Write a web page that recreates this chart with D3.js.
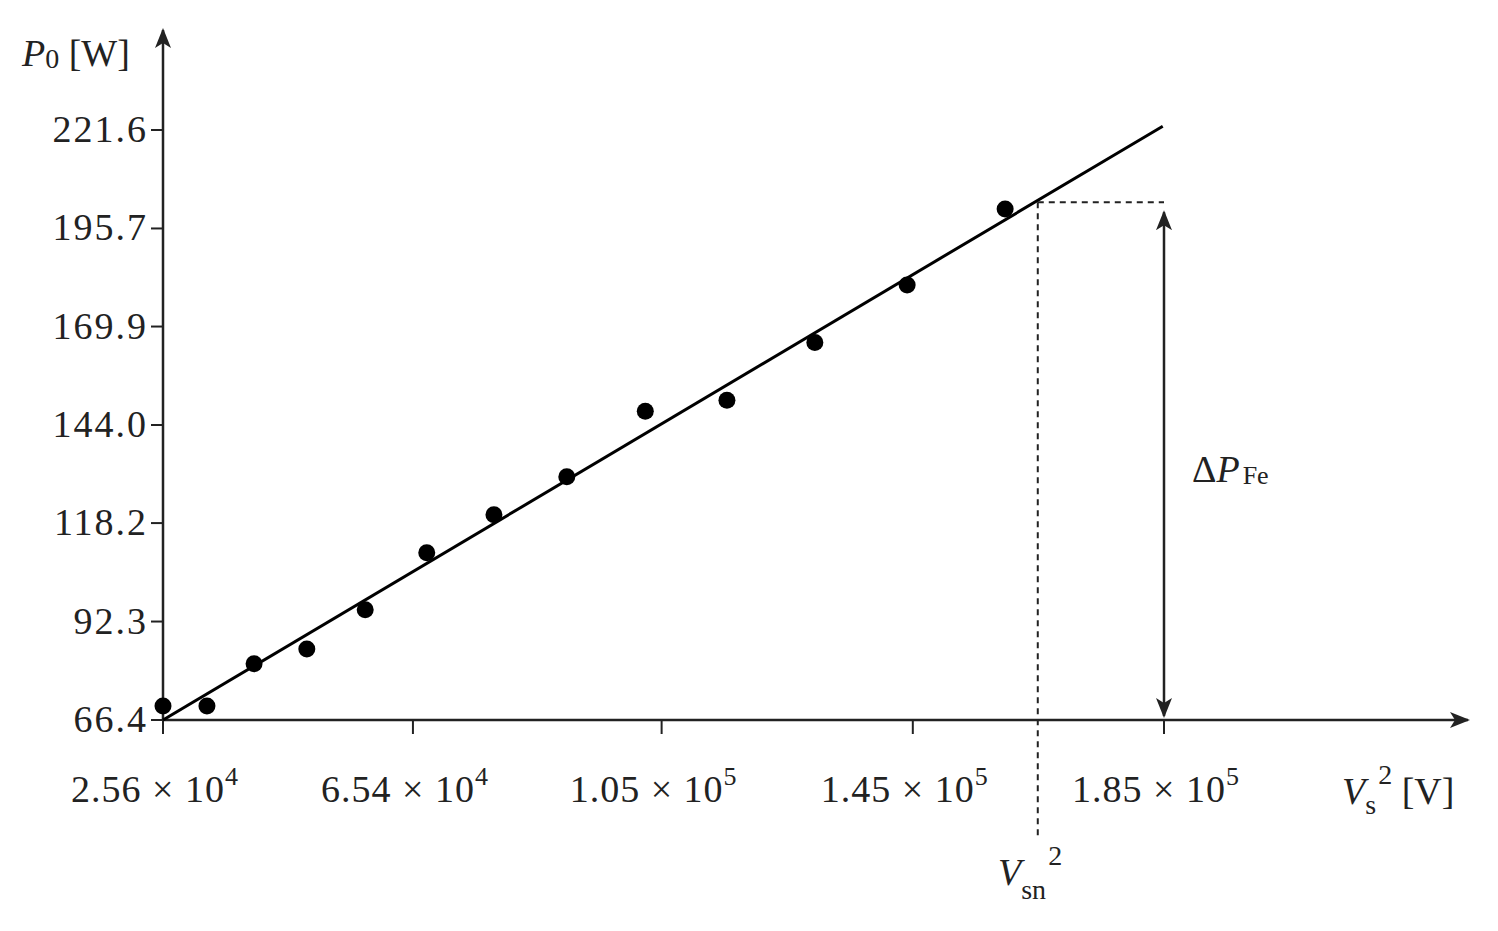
<!DOCTYPE html><html><head><meta charset="utf-8">
<script src="https://cdn.jsdelivr.net/npm/d3@7"></script>
<style>body{margin:0;background:#fff}text{font-family:"Liberation Serif","DejaVu Serif",serif;fill:#222}</style>
</head><body><svg id="c" width="1498" height="931"></svg>
<script>
const xTicks=[25600,65400,105000,145000,185000];
const xTickLabels=["2.56","6.54","1.05","1.45","1.85"];
const xTickExp=["4","4","5","5","5"];
const yTicks=[66.4,92.3,118.2,144.0,169.9,195.7,221.6];
const ptsX=[25600,32600,40100,48500,57800,67600,78300,89900,102400,115400,129400,144100,159700];
const ptsY=[70.1,70.1,81.2,85.1,95.4,110.4,120.4,130.4,147.6,150.5,165.7,180.8,200.8];
const fitX=[25600,184800];
const fitY=[66.4,222.6];
const vsn=164900, pRated=202.6;

const svg=d3.select("#c");
const x=d3.scaleLinear().domain([25600,185000]).range([163,1164]);
const y=d3.scaleLinear().domain([66.4,221.6]).range([720,130]);
const ink="#222";
svg.append("defs").append("marker").attr("id","ah").attr("viewBox","0 0 20 20").attr("refX",18).attr("refY",10)
 .attr("markerWidth",20).attr("markerHeight",20).attr("markerUnits","userSpaceOnUse").attr("orient","auto-start-reverse")
 .append("path").attr("d","M0,2 L20,10 L0,18 L5,10 Z").attr("fill",ink);
svg.append("line").attr("x1",163).attr("y1",720).attr("x2",1468).attr("y2",720).attr("stroke",ink).attr("stroke-width",2.5).attr("marker-end","url(#ah)");
svg.append("line").attr("x1",163).attr("y1",720).attr("x2",163).attr("y2",30).attr("stroke",ink).attr("stroke-width",2.5).attr("marker-end","url(#ah)");
xTicks.forEach((t,i)=>{
 svg.append("line").attr("x1",x(t)).attr("x2",x(t)).attr("y1",720).attr("y2",734).attr("stroke",ink).attr("stroke-width",2);
 const tx=svg.append("text").attr("x",x(t)-8).attr("y",802).attr("text-anchor","middle").attr("font-size",38).attr("letter-spacing",1);
 tx.append("tspan").text(xTickLabels[i]+" \u00d7 10");
 tx.append("tspan").attr("dy",-17).attr("font-size",26).text(xTickExp[i]);
});
yTicks.forEach(t=>{
 svg.append("line").attr("x1",163).attr("x2",151).attr("y1",y(t)).attr("y2",y(t)).attr("stroke",ink).attr("stroke-width",2);
 svg.append("text").attr("x",148).attr("y",y(t)+12).attr("text-anchor","end").attr("font-size",38).attr("letter-spacing",2).text(t.toFixed(1));
});
svg.append("line").attr("x1",x(fitX[0])).attr("y1",y(fitY[0])).attr("x2",x(fitX[1])).attr("y2",y(fitY[1])).attr("stroke","#000").attr("stroke-width",3);
svg.selectAll("circle").data(ptsX).join("circle").attr("cx",d=>x(d)).attr("cy",(d,i)=>y(ptsY[i])).attr("r",8.5).attr("fill","#000");
svg.append("line").attr("x1",x(vsn)).attr("x2",x(vsn)).attr("y1",y(pRated)).attr("y2",838).attr("stroke",ink).attr("stroke-width",2).attr("stroke-dasharray","6,5");
svg.append("line").attr("x1",x(vsn)).attr("x2",x(185000)).attr("y1",y(pRated)).attr("y2",y(pRated)).attr("stroke",ink).attr("stroke-width",2).attr("stroke-dasharray","6,5");
svg.append("line").attr("x1",x(185000)).attr("x2",x(185000)).attr("y1",y(pRated)+10).attr("y2",716).attr("stroke",ink).attr("stroke-width",2.5)
 .attr("marker-end","url(#ah)").attr("marker-start","url(#ah)");
let t=svg.append("text").attr("x",1192).attr("y",482).attr("font-size",38);
t.append("tspan").text("\u0394");t.append("tspan").attr("font-style","italic").text("P");
t.append("tspan").attr("dy",2).attr("font-size",26).attr("dx",3).text("Fe");
t=svg.append("text").attr("x",22).attr("y",66).attr("font-size",38);
t.append("tspan").attr("font-style","italic").text("P");t.append("tspan").attr("font-size",28).attr("dy",2).text("0");
t.append("tspan").attr("dy",-2).text(" [W]");
t=svg.append("text").attr("x",1342).attr("y",804).attr("font-size",38);
t.append("tspan").attr("font-style","italic").text("V");t.append("tspan").attr("font-size",28).attr("dy",10).text("s");
t.append("tspan").attr("font-size",28).attr("dy",-30).attr("dx",2).text("2");t.append("tspan").attr("dy",20).text(" [V]");
t=svg.append("text").attr("x",998).attr("y",885).attr("font-size",38);
t.append("tspan").attr("font-style","italic").text("V");t.append("tspan").attr("font-size",28).attr("dy",14).text("sn");
t.append("tspan").attr("font-size",28).attr("dy",-34).attr("dx",2).text("2");
</script></body></html>
